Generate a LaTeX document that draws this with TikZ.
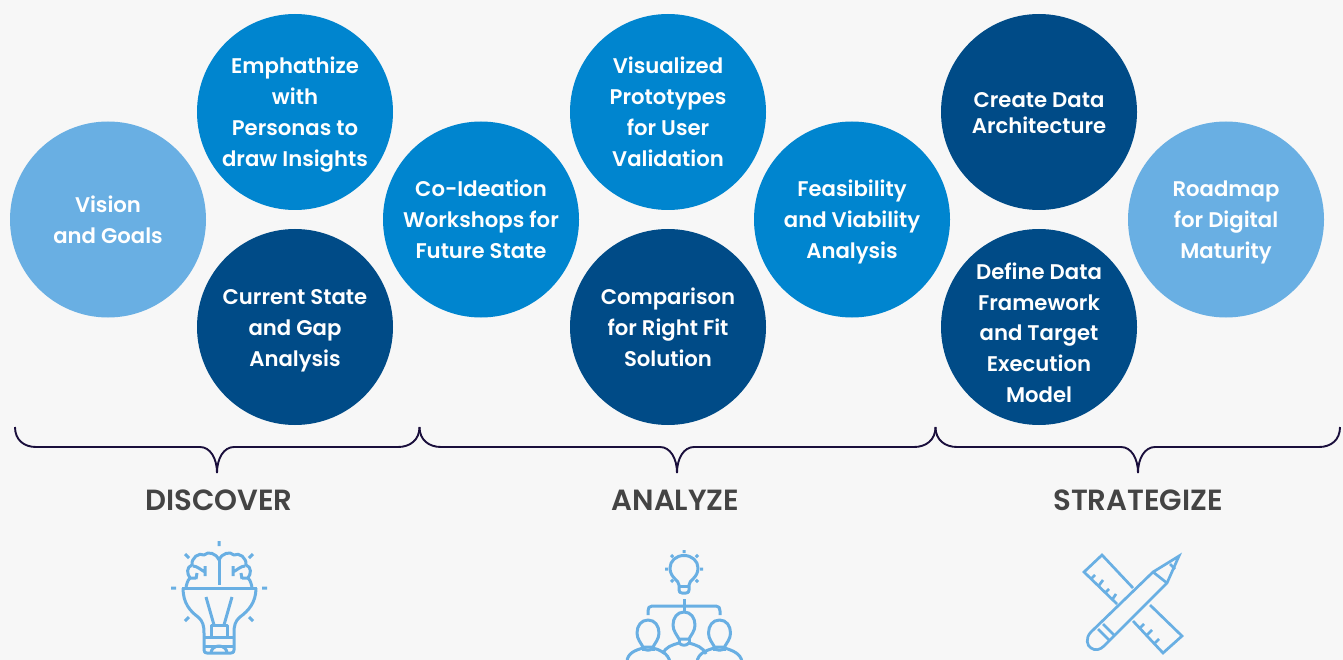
\documentclass[tikz,border=0pt]{standalone}
\usepackage{fontspec}
\setmainfont{Poppins}[UprightFont=*-SemiBold]
\definecolor{bgc}{HTML}{F7F7F7}
\definecolor{lightb}{HTML}{69AFE3}
\definecolor{midb}{HTML}{0085CF}
\definecolor{darkb}{HTML}{004B87}
\definecolor{bracec}{HTML}{1A0F3C}
\definecolor{headc}{HTML}{444444}
\newcommand\tl{\rule{0pt}{16.5pt}}
\newcommand\bl[1]{\smash{#1}}
\tikzset{
  bub/.style={circle,minimum size=196pt,inner sep=0pt,text=white,align=center,font=\fontsize{21.2}{31}\selectfont},
  bubl/.style={bub,fill=lightb},
  bubm/.style={bub,fill=midb},
  bubd/.style={bub,fill=darkb},
  head/.style={text=headc,font=\fontsize{29.2}{33}\selectfont,inner sep=0pt},
  brace/.style={draw=bracec,line width=1.9pt},
  icon/.style={draw=lightb,line width=3pt,line cap=butt,line join=round},
  iconthin/.style={draw=lightb,line width=2.7pt,line join=miter}
}
\begin{document}
\begin{tikzpicture}[x=1pt,y=-1pt]
\useasboundingbox (0,0) rectangle (1343,660);
\fill[bgc] (0,0) rectangle (1343,660);
\clip (0,0) rectangle (1343,660);
% bubbles
\node[bubl] (vision) at (108,219.5) {\tl Vision\\\bl{and Goals}};
\node[bubm] (emph) at (295,112) {\tl Emphathize\\with\\Personas to\\\bl{draw Insights}};
\node[bubd] (current) at (295,327) {\tl Current State\\and Gap\\\bl{Analysis}};
\node[bubm] (coid) at (481,219.5) {\tl Co-Ideation\\Workshops for\\\bl{Future State}};
\node[bubm] (visu) at (668,112) {\tl Visualized\\Prototypes\\for User\\\bl{Validation}};
\node[bubd] (comp) at (668,327) {\tl Comparison\\for Right Fit\\\bl{Solution}};
\node[bubm] (feas) at (852,219.5) {\tl Feasibility\\and Viability\\\bl{Analysis}};
\node[bubd,font=\fontsize{21.2}{26}\selectfont] (create) at (1039,112) {\tl Create Data\\\bl{Architecture}};
\node[bubd] (define) at (1039,327) {};
\node[text=white,align=center,font=\fontsize{21.2}{30.7}\selectfont,inner sep=0pt] (definetext) at (1039,332.5) {\tl Define Data\\Framework\\and Target\\Execution\\\bl{Model}};
\node[bubl] (road) at (1226,219.5) {\tl Roadmap\\for Digital\\\bl{Maturity}};
% braces
\draw[brace] (15,427) .. controls (15,440) and (24,447) .. (36,447) -- (200,447)
  .. controls (210,447) and (217,458) .. (217,473) .. controls (217,458) and (224,447) .. (234,447)
  -- (398,447) .. controls (410,447) and (419.5,440) .. (419.5,427);
\draw[brace] (419.5,427) .. controls (419.5,440) and (429,447) .. (441,447) -- (660,447)
  .. controls (670,447) and (677,458) .. (677,473) .. controls (677,458) and (684,447) .. (694,447)
  -- (914,447) .. controls (926,447) and (935.5,440) .. (935.5,427);
\draw[brace] (935.5,427) .. controls (935.5,440) and (945,447) .. (957,447) -- (1121,447)
  .. controls (1131,447) and (1138,458) .. (1138,473) .. controls (1138,458) and (1145,447) .. (1155,447)
  -- (1319,447) .. controls (1331,447) and (1340,440) .. (1340,427);
% headings
\node[head] (discover) at (219,500) {DISCOVER};
\node[head] (analyze) at (675.5,500) {ANALYZE};
\node[head] (strategize) at (1138,500) {STRATEGIZE};
% brain-bulb icon
\draw[icon] (219,541) -- (219,546) (171,588) -- (176,588) (262,588) -- (267,588)
  (185,554) -- (189,558) (253,554) -- (249,558) (185,621) -- (189,617) (253,621) -- (249,617);
\draw[icon] (182,588) -- (257,588) (219,557) -- (219,585);
\draw[icon] (183,588) .. controls (183,603) and (190,611) .. (198,617) .. controls (203,621) and (204,626) .. (204,633) -- (204,650)
  .. controls (204,652) and (205,653) .. (207,653) -- (231,653) .. controls (233,653) and (234,652) .. (234,650) -- (234,633)
  .. controls (234,626) and (235,621) .. (240,617) .. controls (248,611) and (256,603) .. (256,588);
\draw[icon] (204,637.5) -- (234,637.5) (204,646.5) -- (234,646.5);
\draw[icon] (211,637) -- (211,625) -- (227,625) -- (227,637);
\draw[icon] (206,597) -- (214,625) (232,597) -- (224,625);
\draw[icon] (211,653) arc[start angle=180,end angle=0,x radius=8,y radius=-7];
\foreach \t in {{},{shift={(438,0)},xscale=-1}}{
  \begin{scope}[/utils/exec={\expandafter\tikzset\expandafter{\t}}]
  \draw[icon] (219,560) .. controls (216,553) and (208,551) .. (204,555) .. controls (199,552) and (191,558) .. (192,565)
     .. controls (186,567) and (187,574) .. (190,578) .. controls (187,581) and (187,584) .. (186,587);
  \draw[icon] (193,566) .. controls (197,566) and (201,570) .. (205,572) (205,566) -- (205,576);
  \draw[icon] (190,578) -- (196,578) (197,573) -- (196,579);
  \end{scope}
}
% group icon
\draw[icon] (684,550) -- (684,553.2) (665,569) -- (668.2,569) (700,569) -- (703.2,569)
  (671,555) -- (673.2,557.2) (698,555) -- (695.8,557.2) (671,582) -- (673.2,579.8) (698,582) -- (695.8,579.8);
\draw[icon] (679,585) .. controls (679,580) and (670,578) .. (670,568) .. controls (670,561) and (676,555.5) .. (684,555.5)
  .. controls (692,555.5) and (698,561) .. (698,568) .. controls (698,578) and (689,580) .. (689,585) -- (689,590)
  .. controls (689,592) and (688,593) .. (686,593) -- (682,593) .. controls (680,593) and (679,592) .. (679,590) -- cycle;
\draw[icon] (679,586) -- (689,586);
\draw[icon] (684,599) -- (684,611);
\draw[icon] (648,615) -- (648,611) .. controls (648,608) and (649,606) .. (652,606) -- (716,606) .. controls (719,606) and (720,608) .. (720,611) -- (720,615);
\foreach \cx/\cy in {648/633,684/625,719.5/633}{
  \begin{scope}[shift={(\cx,\cy)}]
  \draw[icon] (0,-13) .. controls (7,-13) and (11,-7) .. (11,0) .. controls (11,6) and (7,10) .. (5,14) -- (-5,14)
    .. controls (-7,10) and (-11,6) .. (-11,0) .. controls (-11,-7) and (-7,-13) .. (0,-13) -- cycle;
  \draw[icon] (-5,14) -- (-5,18) (5,14) -- (5,18);
  \end{scope}
}
\draw[icon] (627,662) .. controls (627,653) and (636,650) .. (643,648) .. controls (646,651) and (650,651) .. (653,648) .. controls (660,650) and (668,653) .. (670,662);
\draw[icon] (697,662) .. controls (698,653) and (707,650) .. (714.5,648) .. controls (717,651) and (722,651) .. (724.5,648) .. controls (731,650) and (741,653) .. (742,662);
\draw[icon] (663,654) .. controls (665,647) and (672,645) .. (679,643) .. controls (682,646) and (686,646) .. (689,643) .. controls (696,645) and (703,647) .. (706,654);
% ruler + pencil icon
\draw[iconthin] (1133,588) -- (1102,555) -- (1084,572) -- (1117,604);
\draw[iconthin] (1150,605) -- (1182,636) -- (1163,653) -- (1133,621);
\draw[iconthin] (1091,579) -- (1095,575) (1098.5,586) -- (1103,580) (1105,593) -- (1109,589) (1112,600) -- (1116,594);
\draw[iconthin] (1140,628) -- (1144,624) (1147,635) -- (1152,630) (1155,643) -- (1159,639);
\draw[iconthin] (1179,556) -- (1153,572) -- (1091,632) .. controls (1085,638) and (1087,646) .. (1091,648)
  .. controls (1095,651) and (1100,650) .. (1104,646) -- (1167,583) -- cycle;
\draw[iconthin] (1153,572) -- (1167,583);
\draw[iconthin] (1098,629) -- (1109,640) (1103,624) -- (1114,635);
\draw[iconthin] (1170,564) -- (1175,569);
\end{tikzpicture}
\end{document}
